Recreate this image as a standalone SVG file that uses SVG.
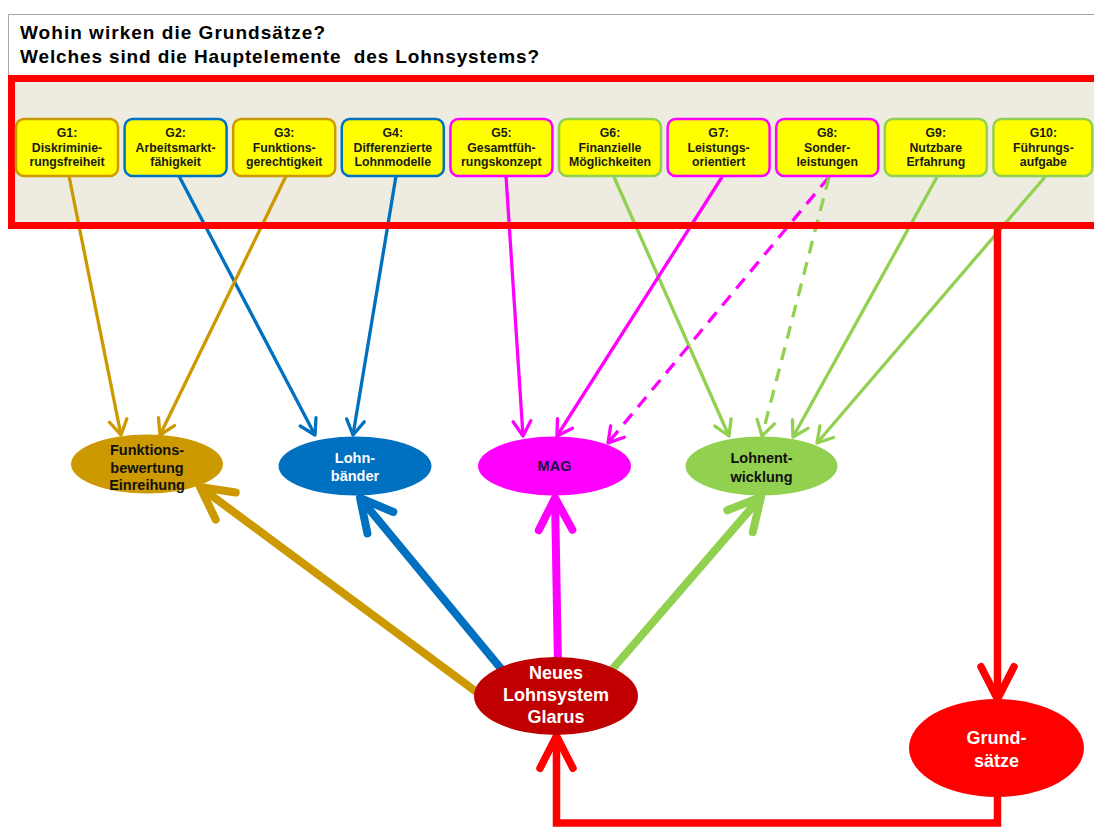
<svg xmlns="http://www.w3.org/2000/svg" width="1094" height="828" viewBox="0 0 1094 828">
<style>
.title{font-family:"Liberation Sans",Arial,sans-serif;font-weight:bold;font-size:19px;fill:#000}
.box{fill:#FFFF00;stroke-width:2.5}
.bt{font-family:"Liberation Sans",Arial,sans-serif;font-weight:bold;font-size:12.3px;fill:#1a1a1a;text-anchor:middle}
.et{font-family:"Liberation Sans",Arial,sans-serif;font-weight:bold;font-size:14.5px;text-anchor:middle}
.bt2{font-family:"Liberation Sans",Arial,sans-serif;font-weight:bold;font-size:18px;fill:#fff;text-anchor:middle}
.thin{fill:none;stroke-width:3.3}
.thick{fill:none;stroke-width:8}
.red{fill:none;stroke:#FF0000;stroke-width:7.5}
.gold{stroke:#CC9900}.blue{stroke:#0070C0}.mag{stroke:#FF00FF}.green{stroke:#92D050}
.dash{stroke-dasharray:13 9}
</style>
<defs>
<marker id="aGold" markerUnits="strokeWidth" orient="auto" refX="0" refY="0" markerWidth="10" markerHeight="10" overflow="visible"><path d="M-4.5,-2.7 L0,0 L-4.5,2.7" fill="none" stroke="#CC9900" stroke-width="1" stroke-linecap="round" stroke-linejoin="round"/></marker>
<marker id="aBlue" markerUnits="strokeWidth" orient="auto" refX="0" refY="0" markerWidth="10" markerHeight="10" overflow="visible"><path d="M-4.5,-2.7 L0,0 L-4.5,2.7" fill="none" stroke="#0070C0" stroke-width="1" stroke-linecap="round" stroke-linejoin="round"/></marker>
<marker id="aMag" markerUnits="strokeWidth" orient="auto" refX="0" refY="0" markerWidth="10" markerHeight="10" overflow="visible"><path d="M-4.5,-2.7 L0,0 L-4.5,2.7" fill="none" stroke="#FF00FF" stroke-width="1" stroke-linecap="round" stroke-linejoin="round"/></marker>
<marker id="aGreen" markerUnits="strokeWidth" orient="auto" refX="0" refY="0" markerWidth="10" markerHeight="10" overflow="visible"><path d="M-4.5,-2.7 L0,0 L-4.5,2.7" fill="none" stroke="#92D050" stroke-width="1" stroke-linecap="round" stroke-linejoin="round"/></marker>
<marker id="tGold" markerUnits="strokeWidth" orient="auto" refX="0" refY="0" markerWidth="10" markerHeight="10" overflow="visible"><path d="M-4,-2.1 L0,0 L-4,2.1" fill="none" stroke="#CC9900" stroke-width="1" stroke-linecap="round" stroke-linejoin="round"/></marker>
<marker id="tBlue" markerUnits="strokeWidth" orient="auto" refX="0" refY="0" markerWidth="10" markerHeight="10" overflow="visible"><path d="M-4,-2.1 L0,0 L-4,2.1" fill="none" stroke="#0070C0" stroke-width="1" stroke-linecap="round" stroke-linejoin="round"/></marker>
<marker id="tMag" markerUnits="strokeWidth" orient="auto" refX="0" refY="0" markerWidth="10" markerHeight="10" overflow="visible"><path d="M-4,-2.1 L0,0 L-4,2.1" fill="none" stroke="#FF00FF" stroke-width="1" stroke-linecap="round" stroke-linejoin="round"/></marker>
<marker id="tGreen" markerUnits="strokeWidth" orient="auto" refX="0" refY="0" markerWidth="10" markerHeight="10" overflow="visible"><path d="M-4,-2.1 L0,0 L-4,2.1" fill="none" stroke="#92D050" stroke-width="1" stroke-linecap="round" stroke-linejoin="round"/></marker>
<marker id="tRed" markerUnits="strokeWidth" orient="auto" refX="0" refY="0" markerWidth="10" markerHeight="10" overflow="visible"><path d="M-4.3,-2.2 L0,0 L-4.3,2.2" fill="none" stroke="#FF0000" stroke-width="1" stroke-linecap="round" stroke-linejoin="round"/></marker>
</defs>
<rect x="0" y="0" width="1094" height="828" fill="#fff"/>
<path d="M8.5,76 V14.5 H1094" fill="none" stroke="#A6A6A6" stroke-width="1"/>
<text class="title" x="20" y="39" textLength="305" lengthAdjust="spacing">Wohin wirken die Grundsätze?</text>
<text class="title" x="20" y="63" textLength="519" lengthAdjust="spacing" xml:space="preserve">Welches sind die Hauptelemente  des Lohnsystems?</text>
<rect x="11.5" y="78.5" width="1090" height="147" fill="#EEECE1"/>
<g id="connectors">
<path class="thin gold" d="M69,176 L121,435" marker-end="url(#aGold)"/>
<path class="thin blue" d="M179,176 L315,435" marker-end="url(#aBlue)"/>
<path class="thin gold" d="M286,176 L160,435" marker-end="url(#aGold)"/>
<path class="thin blue" d="M396,176 L353,435" marker-end="url(#aBlue)"/>
<path class="thin mag" d="M506,176 L523,436" marker-end="url(#aMag)"/>
<path class="thin green" d="M614,177 L729,436" marker-end="url(#aGreen)"/>
<path class="thin mag" d="M722,177 L557,436" marker-end="url(#aMag)"/>
<path class="thin mag dash" d="M829,177 L608,443" marker-end="url(#aMag)"/>
<path class="thin green dash" d="M829,177 L762,436" marker-end="url(#aGreen)"/>
<path class="thin green" d="M937,177 L793,437" marker-end="url(#aGreen)"/>
<path class="thin green" d="M1045,177 L817,443" marker-end="url(#aGreen)"/>
<path class="thick gold" d="M490,702 L200,487" marker-end="url(#tGold)"/>
<path class="thick blue" d="M512,682 L360,498" marker-end="url(#tBlue)"/>
<path class="thick mag" d="M558,665 L555,498" marker-end="url(#tMag)"/>
<path class="thick green" d="M603,680 L761,497" marker-end="url(#tGreen)"/>
<path class="red" d="M997.5,226 V699" marker-end="url(#tRed)"/>
<path class="red" d="M997.5,790 V823 H556.5 V736" stroke-linejoin="miter" marker-end="url(#tRed)"/>
</g>
<rect x="11.5" y="78.5" width="1090" height="147" fill="none" stroke="#FF0000" stroke-width="7"/>
<g id="G1"><rect class="box" style="stroke:#CC9900" x="16" y="119" width="102" height="57" rx="8"/><text class="bt" x="67" y="137">G1:</text><text class="bt" x="67" y="151.5">Diskriminie-</text><text class="bt" x="67" y="166">rungsfreiheit</text></g>
<g id="G2"><rect class="box" style="stroke:#0070C0" x="124.6" y="119" width="102" height="57" rx="8"/><text class="bt" x="175.6" y="137">G2:</text><text class="bt" x="175.6" y="151.5">Arbeitsmarkt-</text><text class="bt" x="175.6" y="166">fähigkeit</text></g>
<g id="G3"><rect class="box" style="stroke:#CC9900" x="233.2" y="119" width="102" height="57" rx="8"/><text class="bt" x="284.2" y="137">G3:</text><text class="bt" x="284.2" y="151.5">Funktions-</text><text class="bt" x="284.2" y="166">gerechtigkeit</text></g>
<g id="G4"><rect class="box" style="stroke:#0070C0" x="341.8" y="119" width="102" height="57" rx="8"/><text class="bt" x="392.8" y="137">G4:</text><text class="bt" x="392.8" y="151.5">Differenzierte</text><text class="bt" x="392.8" y="166">Lohnmodelle</text></g>
<g id="G5"><rect class="box" style="stroke:#FF00FF" x="450.4" y="119" width="102" height="57" rx="8"/><text class="bt" x="501.4" y="137">G5:</text><text class="bt" x="501.4" y="151.5">Gesamtfüh-</text><text class="bt" x="501.4" y="166">rungskonzept</text></g>
<g id="G6"><rect class="box" style="stroke:#92D050" x="559" y="119" width="102" height="57" rx="8"/><text class="bt" x="610" y="137">G6:</text><text class="bt" x="610" y="151.5">Finanzielle</text><text class="bt" x="610" y="166">Möglichkeiten</text></g>
<g id="G7"><rect class="box" style="stroke:#FF00FF" x="667.6" y="119" width="102" height="57" rx="8"/><text class="bt" x="718.6" y="137">G7:</text><text class="bt" x="718.6" y="151.5">Leistungs-</text><text class="bt" x="718.6" y="166">orientiert</text></g>
<g id="G8"><rect class="box" style="stroke:#FF00FF" x="776.2" y="119" width="102" height="57" rx="8"/><text class="bt" x="827.2" y="137">G8:</text><text class="bt" x="827.2" y="151.5">Sonder-</text><text class="bt" x="827.2" y="166">leistungen</text></g>
<g id="G9"><rect class="box" style="stroke:#92D050" x="884.8" y="119" width="102" height="57" rx="8"/><text class="bt" x="935.8" y="137">G9:</text><text class="bt" x="935.8" y="151.5">Nutzbare</text><text class="bt" x="935.8" y="166">Erfahrung</text></g>
<g id="G10"><rect class="box" style="stroke:#92D050" x="993.4" y="119" width="99" height="57" rx="8"/><text class="bt" x="1043.4" y="137">G10:</text><text class="bt" x="1043.4" y="151.5">Führungs-</text><text class="bt" x="1043.4" y="166">aufgabe</text></g>
<g id="funktionsbewertung"><ellipse cx="147" cy="464" rx="76" ry="29.5" fill="#CC9900"/><text class="et" fill="#111" x="147" y="455">Funktions-</text><text class="et" fill="#111" x="147" y="472.5">bewertung</text><text class="et" fill="#111" x="147" y="490">Einreihung</text></g>
<g id="lohnbaender"><ellipse cx="355" cy="466" rx="76.5" ry="29.5" fill="#0070C0"/><text class="et" fill="#fff" x="355" y="463">Lohn-</text><text class="et" fill="#fff" x="355" y="481">bänder</text></g>
<g id="mag"><ellipse cx="554.5" cy="466" rx="76.5" ry="29.5" fill="#FF00FF"/><text class="et" fill="#1a1040" x="554.5" y="471">MAG</text></g>
<g id="lohnentwicklung"><ellipse cx="761.5" cy="466" rx="76" ry="29.5" fill="#92D050"/><text class="et" fill="#111" x="761.5" y="463">Lohnent-</text><text class="et" fill="#111" x="761.5" y="482">wicklung</text></g>
<g id="neues"><ellipse cx="556" cy="696" rx="82" ry="39" fill="#C00000"/><text class="bt2" x="556" y="679">Neues</text><text class="bt2" x="556" y="701">Lohnsystem</text><text class="bt2" x="556" y="723">Glarus</text></g>
<g id="grundsaetze"><ellipse cx="996.5" cy="748" rx="87.5" ry="49" fill="#FF0000"/><text class="bt2" x="996.5" y="744">Grund-</text><text class="bt2" x="996.5" y="767">sätze</text></g>
</svg>
